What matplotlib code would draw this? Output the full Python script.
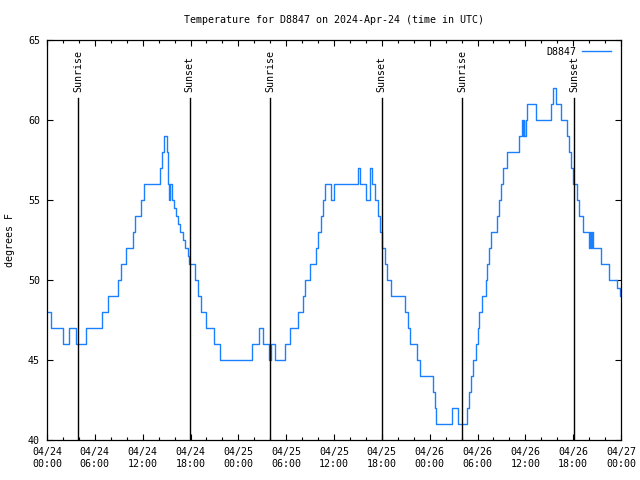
import numpy as np
import pandas as pd
import matplotlib
matplotlib.use('Agg')
import matplotlib.pyplot as plt
import matplotlib.dates as mdates

station = "D8847"
title = "Temperature for D8847 on 2024-Apr-24 (time in UTC)"

# hours since 2024-04-24 00:00 UTC, temperature (deg F) from that time on
hours = [0.0, 0.44, 1.95, 2.76, 3.64, 4.90, 6.91, 7.60, 8.86, 9.30,
         9.93, 10.81, 11.0, 11.81, 12.13, 14.14, 14.45, 14.70, 15.02, 15.14,
         15.20, 15.27, 15.46, 15.64, 15.96, 16.17, 16.46, 16.68, 17.09, 17.30,
         17.72, 17.84, 18.60, 18.97, 19.29, 19.98, 20.99, 21.74, 25.67, 26.58,
         27.08, 27.83, 28.11, 28.61, 29.84, 30.47, 31.45, 32.17, 32.42, 33.05,
         33.80, 34.05, 34.31, 34.56, 34.87, 35.60, 36.0, 39.04, 39.27, 39.96,
         40.53, 40.78, 41.09, 41.51, 41.72, 42.06, 42.35, 42.64, 43.10, 44.86,
         45.28, 45.58, 46.41, 46.75, 48.38, 48.63, 48.84, 50.83, 51.58, 52.65,
         52.94, 53.24, 53.44, 53.75, 54.0, 54.16, 54.54, 55.04, 55.25, 55.42,
         55.67, 56.42, 56.67, 57.01, 57.21, 57.64, 59.19, 59.53, 59.65, 59.78,
         59.88, 60.06, 60.15, 61.28, 63.17, 63.42, 63.80, 64.43, 65.18, 65.47,
         65.72, 65.93, 66.43, 66.76, 67.27, 67.98, 68.11, 68.24, 68.36, 68.49,
         69.49, 70.53, 71.54, 71.88, 72.0]
temps = [48, 47, 46, 47, 46, 47, 48, 49, 50, 51,
         52, 53, 54, 55, 56, 57, 58, 59, 58, 57,
         56, 55, 56, 55, 54.5, 54, 53.5, 53, 52.5, 52,
         51.5, 51, 50, 49, 48, 47, 46, 45, 46, 47,
         46, 45, 46, 45, 46, 47, 48, 49, 50, 51,
         52, 53, 54, 55, 56, 55, 56, 57, 56, 55,
         57, 56, 55, 54, 53, 52, 51, 50, 49, 48,
         47, 46, 45, 44, 43, 42, 41, 42, 41, 42,
         43, 44, 45, 46, 47, 48, 49, 50, 51, 52,
         53, 54, 55, 56, 57, 58, 59, 60, 59, 60,
         59, 60, 61, 60, 61, 62, 61, 60, 59, 58,
         57, 56, 55, 54, 53, 52, 53, 52, 53, 52,
         51, 50, 49.5, 49, 49]

sunrise_hours = [3.95, 28.0, 52.05]
sunset_hours = [17.9, 42.0, 66.1]

start = pd.Timestamp("2024-04-24 00:00")
times = start + pd.to_timedelta(hours, unit="h")

font = "DejaVu Sans Mono"
fs = 7.2
plt.rcParams['font.family'] = font
plt.rcParams['font.size'] = fs

fig = plt.figure(figsize=(6.4, 4.8), dpi=100)
ax = fig.add_axes([47/640, 40/480, 574/640, 400/480])

ax.plot(times, temps, color='#1a80ff', lw=1.0, drawstyle='steps-post', label=station)

for h in sunrise_hours:
    t = start + pd.Timedelta(hours=h)
    ax.plot([t, t], [40, 61.4], color='black', lw=1.0)
    ax.text(t, 61.75, "Sunrise", rotation=90, ha='center', va='bottom', fontsize=fs)
for h in sunset_hours:
    t = start + pd.Timedelta(hours=h)
    ax.plot([t, t], [40, 61.4], color='black', lw=1.0)
    ax.text(t, 61.75, "Sunset", rotation=90, ha='center', va='bottom', fontsize=fs)

ax.set_xlim(start, start + pd.Timedelta(hours=72))
ax.set_ylim(40, 65)
ax.set_yticks(range(40, 66, 5))

major = pd.date_range(start, periods=13, freq="6h")
ax.set_xticks(major)
ax.set_xticklabels([d.strftime("%m/%d\n%H:%M") for d in major], linespacing=1.3)
ax.set_xticks(pd.date_range(start, periods=37, freq="2h"), minor=True)

ax.tick_params(which='both', direction='in', top=True, right=True, width=0.8)
ax.tick_params(which='major', length=4.5)
ax.tick_params(which='minor', length=2.3)
ax.tick_params(axis='x', pad=5)
ax.tick_params(axis='y', pad=5)
for s in ax.spines.values():
    s.set_linewidth(0.9)

ax.legend(loc='upper right', bbox_to_anchor=(0.995, 1.0), frameon=False,
          markerfirst=False, handlelength=2.9, handletextpad=0.6, fontsize=fs,
          borderaxespad=0.3)

fig.text(334/640, 1 - 20/480, title, ha='center', va='center', fontsize=fs)
fig.text(10/640, 0.5, "degrees F", rotation=90, ha='center', va='center', fontsize=fs)

fig.savefig("out.png", dpi=100)
